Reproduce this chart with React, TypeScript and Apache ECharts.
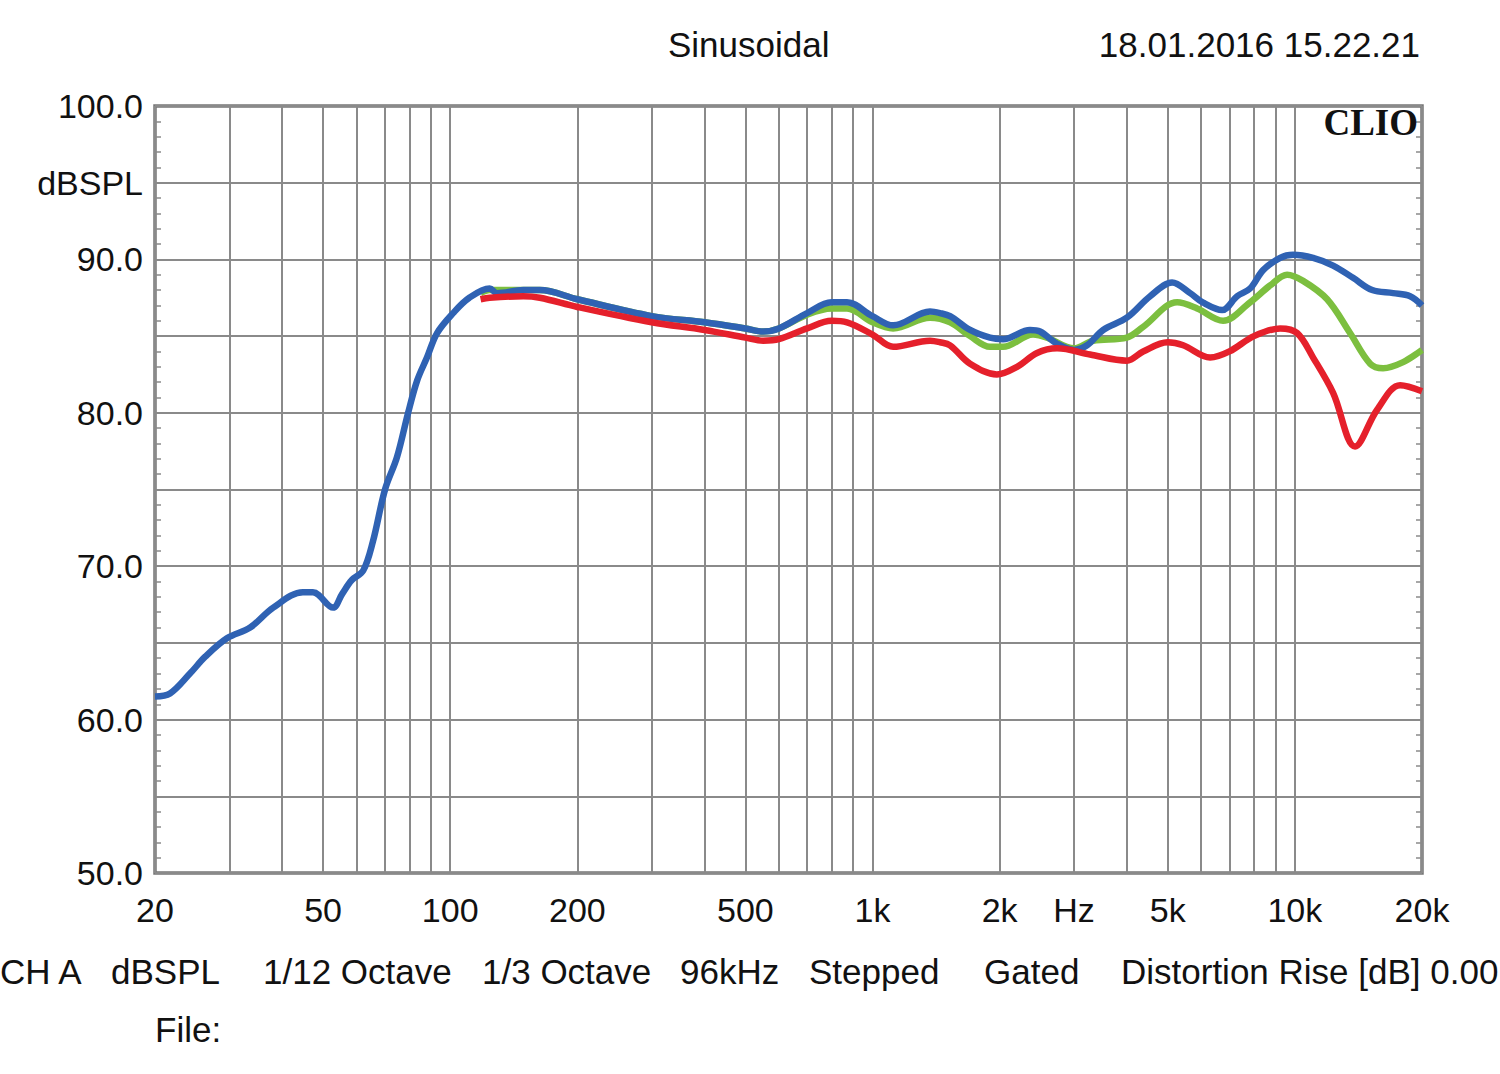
import React, { useEffect, useRef } from "react";
import * as echarts from "echarts";

// ---- data (frequency in Hz, level in dBSPL) ----
const blueFreq = [20, 21.7, 24.2, 26.3, 29.6, 33.6, 38.1, 44.8, 47.3, 52.8, 55.5, 58.5, 62.2, 65.6, 70.1, 74.8, 79.5, 83.5, 88.1, 93.1, 101.6, 111, 124, 129, 149, 163, 200, 300, 400, 500, 551, 600, 700, 800, 870, 1000, 1119, 1368, 1445, 1526, 1702, 1898, 2037, 2360, 2492, 2735, 3000, 3221, 3516, 4000, 4542, 5121, 5650, 6050, 6727, 7298, 7832, 8410, 9228, 9904, 11046, 12318, 13732, 15243, 17090, 18747, 20000];
const blueDb = [61.5, 61.7, 63.0, 64.1, 65.3, 66.0, 67.3, 68.3, 68.3, 67.3, 68.2, 69.1, 69.7, 71.6, 75.0, 77.1, 80.0, 82.1, 83.6, 85.2, 86.5, 87.5, 88.1, 87.8, 88.0, 88.0, 87.4, 86.3, 85.9, 85.5, 85.3, 85.5, 86.5, 87.2, 87.2, 86.3, 85.7, 86.6, 86.5, 86.3, 85.4, 84.9, 84.8, 85.4, 85.3, 84.5, 84.1, 84.4, 85.4, 86.2, 87.6, 88.5, 87.8, 87.2, 86.7, 87.6, 88.1, 89.3, 90.1, 90.3, 90.1, 89.6, 88.8, 88.0, 87.8, 87.6, 87.0];

const greenFreq = [118, 124, 149, 163, 200, 300, 400, 500, 551, 600, 700, 800, 870, 1000, 1119, 1368, 1526, 1702, 1898, 2037, 2399, 2589, 3000, 3328, 4000, 4373, 5263, 5870, 6760, 7832, 8738, 9586, 10458, 11924, 13510, 15077, 16182, 18045, 20000];
const greenDb = [87.8, 88.0, 88.0, 88.0, 87.4, 86.3, 85.9, 85.5, 85.3, 85.5, 86.4, 86.8, 86.8, 85.9, 85.5, 86.2, 85.9, 85.0, 84.3, 84.3, 85.1, 84.9, 84.2, 84.7, 84.9, 85.6, 87.2, 86.8, 86.0, 87.2, 88.3, 89.0, 88.6, 87.4, 85.2, 83.2, 82.9, 83.3, 84.1];

const redFreq = [118, 124, 149, 163, 200, 300, 400, 500, 551, 600, 700, 800, 870, 1000, 1119, 1368, 1445, 1526, 1702, 1970, 2199, 2452, 2735, 3274, 4000, 4373, 5000, 5439, 6300, 7000, 8000, 9228, 10122, 11046, 12318, 13884, 15660, 17755, 20000];
const redDb = [87.4, 87.5, 87.6, 87.5, 86.9, 85.9, 85.4, 84.9, 84.7, 84.8, 85.5, 86.0, 85.9, 85.1, 84.3, 84.7, 84.6, 84.4, 83.2, 82.5, 83.0, 83.9, 84.2, 83.8, 83.4, 84.0, 84.6, 84.4, 83.6, 84.0, 85.0, 85.5, 85.2, 83.6, 81.3, 77.8, 80.2, 81.8, 81.4];

const gridFreqs = [20, 30, 40, 50, 60, 70, 80, 90, 100, 200, 300, 400, 500, 600, 700, 800, 900, 1000, 2000, 3000, 4000, 5000, 6000, 7000, 8000, 9000, 10000, 20000];
const labelFreqs = [20, 50, 100, 200, 500, 1000, 2000, 3000, 5000, 10000, 20000];
const labelTexts = ["20", "50", "100", "200", "500", "1k", "2k", "Hz", "5k", "10k", "20k"];

const yMin = 50;
const yMax = 100;

const FONT = "'Liberation Sans', Arial, sans-serif";

function toPairs(f: number[], d: number[]) {
  return f.map((v, i) => [Math.log10(v), d[i]]);
}

export default function App() {
  const ref = useRef<HTMLDivElement>(null);
  useEffect(() => {
    if (!ref.current) return;
    const chart = echarts.init(ref.current, null, { renderer: "svg" });
    const gridColor = "#8a8a8a";
    const yAxisCommon = {
      type: "value",
      min: yMin,
      max: yMax,
      interval: 5,
      axisLine: { show: false },
      axisTick: { show: true, inside: true, length: 6, lineStyle: { color: gridColor, width: 1.5 } },
      minorTick: { show: true, splitNumber: 5, length: 6, lineStyle: { color: gridColor, width: 1.5 } },
    };
    const txt = (text: string, x: number) => ({
      type: "text",
      x,
      y: 0,
      style: { text, font: `35px ${FONT}`, fill: "#111" },
    });
    chart.setOption({
      animation: false,
      backgroundColor: "#ffffff",
      grid: {
        left: 155,
        top: 106,
        width: 1267,
        height: 767,
        show: true,
        borderColor: "#777777",
        borderWidth: 3.5,
        backgroundColor: "transparent",
      },
      xAxis: {
        type: "value",
        min: Math.log10(20),
        max: Math.log10(20000),
        axisLine: { show: false },
        axisTick: { show: false, customValues: gridFreqs.map((f) => Math.log10(f)) },
        splitLine: { show: true, lineStyle: { color: gridColor, width: 2 } },
        axisLabel: {
          show: true,
          customValues: labelFreqs.map((f) => Math.log10(f)),
          margin: 20,
          fontSize: 34,
          fontFamily: FONT,
          color: "#111",
          formatter: (v: number) => {
            const i = labelFreqs.findIndex((f) => Math.abs(Math.log10(f) - v) < 1e-6);
            return i >= 0 ? labelTexts[i] : "";
          },
        },
      },
      yAxis: [
        {
          ...yAxisCommon,
          position: "left",
          splitLine: { show: true, lineStyle: { color: gridColor, width: 2 } },
          axisLabel: {
            show: true,
            margin: 12,
            fontSize: 34,
            fontFamily: FONT,
            color: "#111",
            showMinLabel: true,
            showMaxLabel: true,
            formatter: (v: number) => {
              if (Math.abs(v % 10) < 1e-6) return v.toFixed(1);
              if (Math.abs(v - 95) < 1e-6) return "dBSPL";
              return "";
            },
          },
        },
        {
          ...yAxisCommon,
          position: "right",
          splitLine: { show: false },
          axisLabel: { show: false },
        },
      ],
      series: [
        {
          type: "line",
          name: "green",
          data: toPairs(greenFreq, greenDb),
          showSymbol: false,
          smooth: 0.35,
          lineStyle: { color: "#7cbf3f", width: 6.5 },
          z: 2,
        },
        {
          type: "line",
          name: "blue",
          data: toPairs(blueFreq, blueDb),
          showSymbol: false,
          smooth: 0.35,
          lineStyle: { color: "#2f62b3", width: 6.5 },
          z: 3,
        },
        {
          type: "line",
          name: "red",
          data: toPairs(redFreq, redDb),
          showSymbol: false,
          smooth: 0.35,
          lineStyle: { color: "#e5202b", width: 6.5 },
          z: 4,
        },
      ],
      graphic: [
        {
          type: "text",
          left: 668,
          top: 27,
          style: { text: "Sinusoidal", font: `35px ${FONT}`, fill: "#111" },
        },
        {
          type: "text",
          right: 80,
          top: 27,
          style: { text: "18.01.2016 15.22.21", font: `35px ${FONT}`, fill: "#111" },
        },
        {
          type: "text",
          right: 82,
          top: 104,
          z: 10,
          style: { text: "CLIO", font: `bold 37px 'Liberation Serif', 'Times New Roman', serif`, fill: "#111" },
        },
        {
          type: "group",
          left: 0,
          top: 954,
          children: [
            txt("CH A", 2),
            txt("dBSPL", 113),
            txt("1/12 Octave", 265),
            txt("1/3 Octave", 484),
            txt("96kHz", 682),
            txt("Stepped", 811),
            txt("Gated", 986),
            txt("Distortion Rise [dB] 0.00", 1123),
          ],
        },
        {
          type: "text",
          left: 155,
          top: 1012,
          style: { text: "File:", font: `35px ${FONT}`, fill: "#111" },
        },
      ],
    });
    return () => chart.dispose();
  }, []);
  return (
    <div
      ref={ref}
      style={{ position: "absolute", left: 0, top: 0, width: 1500, height: 1074, background: "#fff" }}
    />
  );
}
